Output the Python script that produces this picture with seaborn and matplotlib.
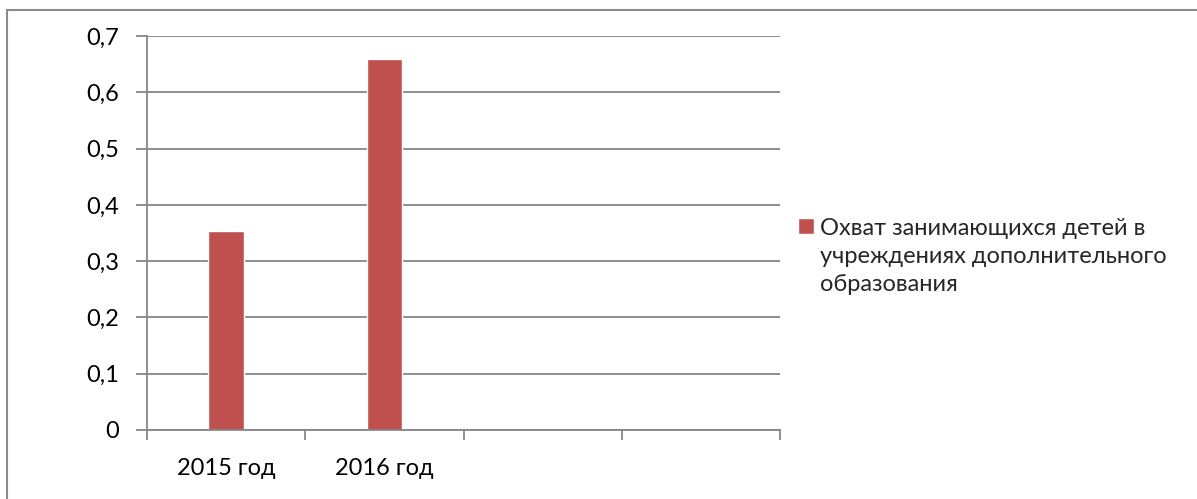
import numpy as np
import pandas as pd
import matplotlib
matplotlib.use("Agg")
import matplotlib.pyplot as plt
from matplotlib.patches import Rectangle
import seaborn as sns

categories = ["2015 год", "2016 год", " ", "  "]
tick_labels = ["2015 год", "2016 год", "", ""]
values = [0.353, 0.659, np.nan, np.nan]
series_name = "Охват занимающихся детей в\nучреждениях дополнительного\nобразования"
y_ticks = [0, 0.1, 0.2, 0.3, 0.4, 0.5, 0.6, 0.7]
y_tick_labels = ["0", "0,1", "0,2", "0,3", "0,4", "0,5", "0,6", "0,7"]

sns.set_theme(style="white")
plt.rcParams['font.family'] = ['Lato', 'DejaVu Sans']

df = pd.DataFrame({"cat": categories, "val": values, "series": series_name})

fig = plt.figure(figsize=(11.97, 4.99), dpi=100)
W, H = 1197, 499
ax = fig.add_axes([147 / W, 1 - 430 / H, (780 - 147) / W, (430 - 36) / H])

sns.barplot(data=df, x="cat", y="val", hue="series", order=categories,
            palette=["#C0504D"], width=0.224, ax=ax, legend=True,
            saturation=1)

grid_c = "#868686"
fs = 17
ax.set_ylim(0, 0.7)
ax.set_xlim(-0.5, 3.5)
ax.set_yticks(y_ticks)
ax.set_yticklabels(y_tick_labels, fontsize=fs, color="black")
ax.set_xticks(range(len(categories)))
ax.set_xticklabels(tick_labels, fontsize=fs, color="black")
ax.set_xticks(np.arange(-0.5, 4.0, 1.0), minor=True)
ax.tick_params(axis="x", which="major", length=0, pad=20)
ax.tick_params(axis="x", which="minor", length=7, width=1.3, color=grid_c, direction="out", bottom=True)
ax.tick_params(axis="y", which="major", length=8, width=1.3, color=grid_c, direction="out", left=True, pad=12)
ax.set_xlabel("")
ax.set_ylabel("")
ax.yaxis.grid(True, color=grid_c, linewidth=1.3)
ax.set_axisbelow(True)
for s in ["top", "right"]:
    ax.spines[s].set_visible(False)
for s in ["left", "bottom"]:
    ax.spines[s].set_color(grid_c)
    ax.spines[s].set_linewidth(1.3)

leg = ax.legend(loc="upper left", bbox_to_anchor=(798 / W, 1 - 218 / H),
                bbox_transform=fig.transFigure, frameon=False, fontsize=fs,
                handlelength=0.66, handleheight=0.66, handletextpad=0.28,
                borderaxespad=0, borderpad=0)
for t in leg.get_texts():
    t.set_linespacing(1.42)


def set_top(box):
    for ch in getattr(box, "get_children", lambda: [])():
        if type(ch).__name__ == "HPacker":
            ch.align = "top"
        set_top(ch)


set_top(leg._legend_handle_box)

fig.patches.append(Rectangle((7 / W, -0.1), 1.2, (1 - 10 / H) + 0.1,
                             transform=fig.transFigure, fill=False,
                             edgecolor="#8C8C8C", linewidth=1.5, zorder=0))

fig.savefig("out.png", dpi=100, facecolor="white")
